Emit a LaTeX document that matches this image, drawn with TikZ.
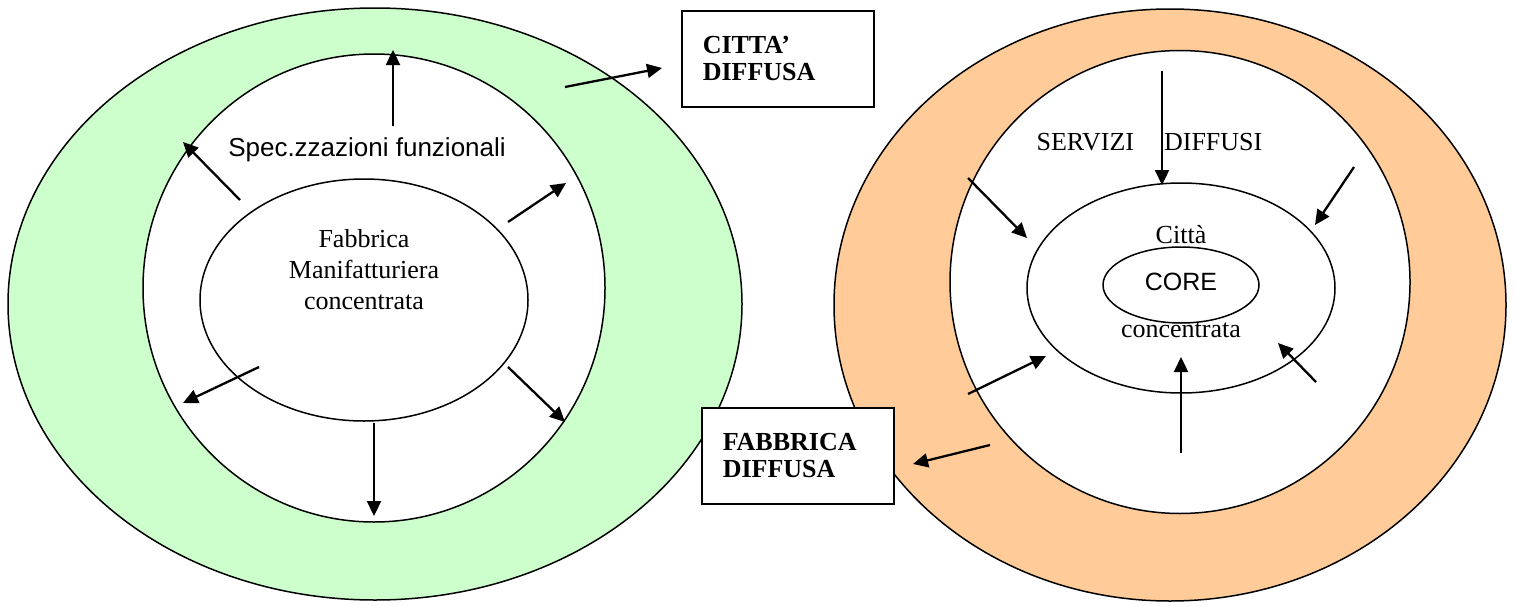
\documentclass[tikz,border=0pt]{standalone}
\usepackage{fontspec}
\setmainfont{Liberation Serif}
\setsansfont{Liberation Sans}
\usetikzlibrary{arrows.meta,shapes.geometric}
\definecolor{greenband}{HTML}{CCFFCC}
\definecolor{orangeband}{HTML}{FFCC99}

\begin{document}
\begin{tikzpicture}[x=1pt,y=-1pt,>={Triangle[length=15pt,width=14pt]},
  ring/.style={ellipse,draw,line width=1.5pt,inner sep=0pt},
  flow/.style={->,line width=2.3pt},
  lbl/.style={font=\fontsize{26}{31}\selectfont},
  sanslbl/.style={font=\sffamily\fontsize{26}{31}\selectfont},
  tagbox/.style={draw,fill=white,line width=1.5pt,align=left,anchor=north west,
    inner xsep=21pt,text width=150pt,minimum height=96pt,
    font=\bfseries\fontsize{26}{27}\selectfont}]
\useasboundingbox (0,0) rectangle (1515,605);
% fabbrica concentrata
\node[ring,fill=greenband,minimum width=734pt,minimum height=592pt] (greenring) at (375,304) {};
\node[ring,fill=white,minimum width=462pt,minimum height=468pt] (leftinner) at (374,288) {};
\node[ring,fill=white,minimum width=328pt,minimum height=242pt] (fabbrica) at (364,300) {};
\node[lbl,align=center] (fabtext) at (364,270) {Fabbrica\\Manifatturiera\\concentrata};
\node[sanslbl,anchor=base] (spec) at (367,156) {Spec.zzazioni funzionali};
% citta concentrata
\node[ring,fill=orangeband,minimum width=672pt,minimum height=592pt] (orangering) at (1170,305) {};
\node[ring,fill=white,minimum width=460pt,minimum height=463pt] (rightinner) at (1180,282) {};
\node[ring,fill=white,minimum width=308pt,minimum height=210pt] (citta) at (1181,288) {};
\node[ring,minimum width=156pt,minimum height=76pt] (core) at (1181,285) {};
\node[sanslbl,anchor=base,font=\sffamily\fontsize{25}{30}\selectfont] (coretext) at (1181,290) {CORE};
\node[lbl,anchor=base] (cittatext) at (1181,243) {Città};
\node[lbl,anchor=base] (conctext) at (1181,337) {concentrata};
\node[lbl,anchor=base west] (servizi) at (1033,150) {SERVIZI\hspace{30pt}DIFFUSI};
% riquadri
\node[tagbox] (cittabox) at (681,10) {CITTA’\\DIFFUSA};
\node[tagbox] (fabbox) at (701,407) {FABBRICA\\DIFFUSA};
% frecce
\foreach \n/\from/\to in {up/{393,126}/{393,50}, ul/{240,200}/{183,142},
  ur/{508,222}/{566,183}, ll/{259,367}/{183,403}, lr/{508,367}/{565,422},
  dn/{374,423}/{374,516}, city/{565,87}/{662,68},
  rdn/{1162,71}/{1162,185}, rul/{968,178}/{1027,238}, rur/{1354,167}/{1315,225},
  rll/{968,394}/{1046,356}, rup/{1181,453}/{1181,357}, rlr/{1316,382}/{1278,343},
  fab/{990,445}/{913,464}}{
  \coordinate (\n0) at (\from);
  \coordinate (\n1) at (\to);
  \draw[flow] (\n0) -- (\n1);
}
\end{tikzpicture}
\end{document}
